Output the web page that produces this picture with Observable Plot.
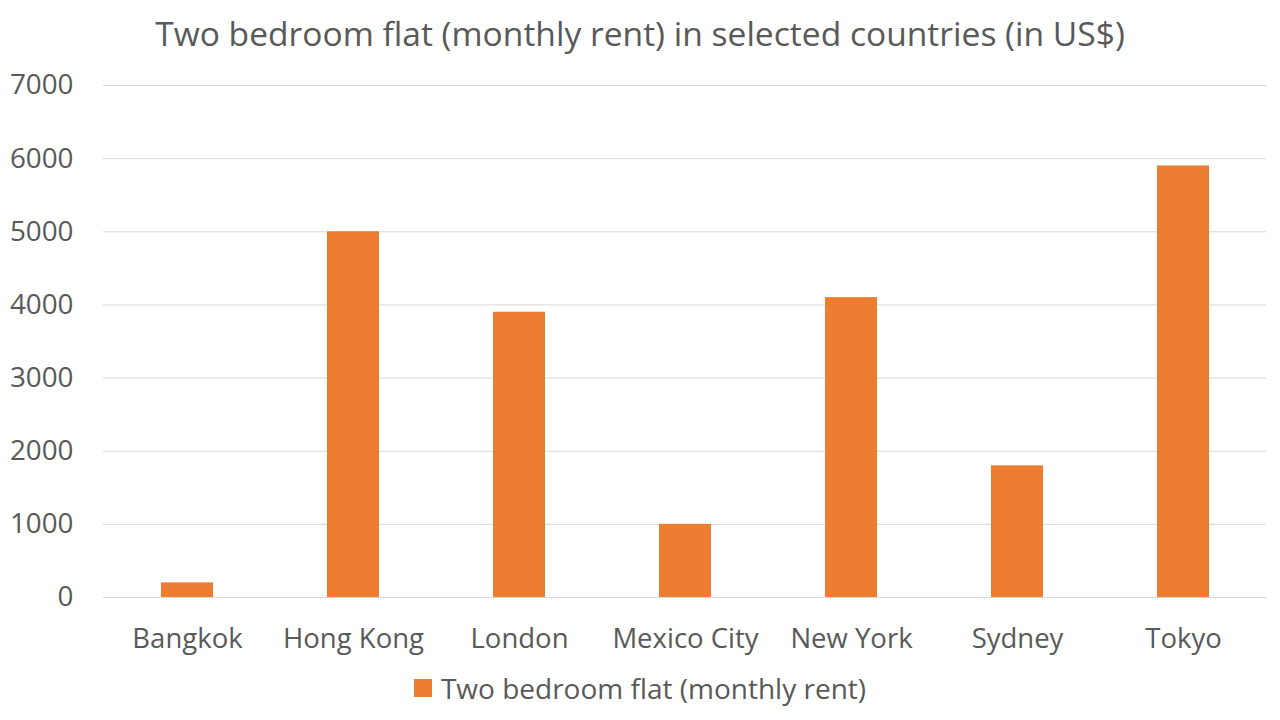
<!DOCTYPE html>
<html>
<head>
<meta charset="utf-8">
<script src="https://cdn.jsdelivr.net/npm/d3@7"></script>
<script src="https://cdn.jsdelivr.net/npm/@observablehq/plot@0.6"></script>
<style>
  html, body { margin: 0; padding: 0; background: #fff; }
  body { width: 1280px; height: 720px; overflow: hidden; font-family: "Open Sans", sans-serif; color: #595959; }
  #title { height: 60px; padding-top: 6px; box-sizing: border-box; line-height: 60px; text-align: center; font-size: 33.6px; white-space: nowrap; }
  #title span { display: inline-block; line-height: 60px; vertical-align: top; transform: translateY(-3px); }
  #legend { height: 50px; display: flex; justify-content: center; align-items: flex-start; font-size: 28px; line-height: 36px; }
  #legend .sw { width: 18px; height: 18px; background: #ED7D31; margin-top: 9px; margin-right: 9px; }
  svg { display: block; overflow: visible; }
</style>
</head>
<body>
<div id="title"><span>Two bedroom flat (monthly rent) in selected countries (in US$)</span></div>
<div id="chart"></div>
<div id="legend"><div class="sw"></div><div>Two bedroom flat (monthly rent)</div></div>
<script>
const cities = ["Bangkok", "Hong Kong", "London", "Mexico City", "New York", "Sydney", "Tokyo"];
const rents = [200, 5000, 3900, 1000, 4100, 1800, 5900];
const yTicks = [0, 1000, 2000, 3000, 4000, 5000, 6000, 7000];
const seriesName = "Two bedroom flat (monthly rent)";

const data = cities.map((c, i) => ({city: c, rent: rents[i]}));

const chart = Plot.plot({
  width: 1280,
  height: 610,
  marginTop: 25,
  marginBottom: 73,
  marginLeft: 103,
  marginRight: 14,
  style: {fontFamily: "Open Sans, sans-serif", color: "#595959", background: "#fff", overflow: "visible"},
  x: {domain: cities, paddingInner: 0.687, paddingOuter: 0.3435, label: null},
  y: {domain: [0, 7000], label: null},
  marks: [
    Plot.gridY(yTicks, {stroke: "#d9d9d9", strokeOpacity: 1, strokeWidth: 1}),
    Plot.barY(data, {x: "city", y: "rent", fill: "#ED7D31"}),
    Plot.axisY(yTicks, {tickSize: 0, tickPadding: 30, fontSize: 27.8, fill: "#595959", label: null, tickFormat: d => String(d)}),
    Plot.axisX({tickSize: 0, tickPadding: 31, fontSize: 27.5, fill: "#595959", label: null})
  ]
});
document.getElementById("chart").appendChild(chart);
</script>
</body>
</html>
